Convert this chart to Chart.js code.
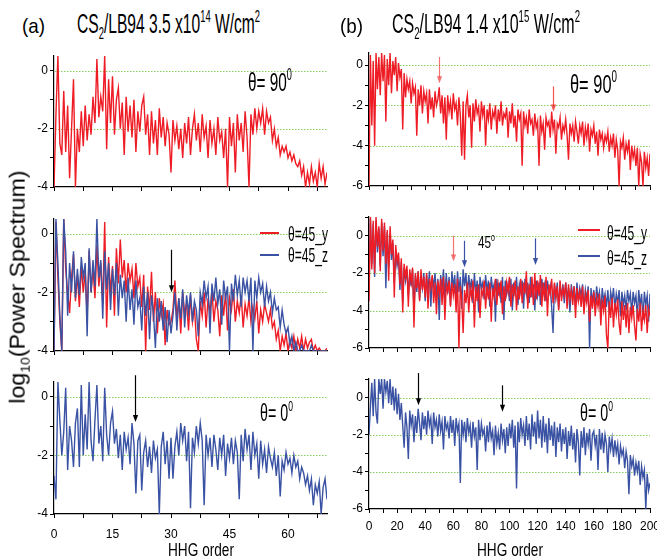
<!DOCTYPE html>
<html>
<head>
<meta charset="utf-8">
<script src="https://cdn.jsdelivr.net/npm/chart.js@4.4.0/dist/chart.umd.min.js"></script>
<style>
  body { margin: 0; width: 657px; height: 560px; overflow: hidden; background: #fff; position: relative;
         font-family: "Liberation Sans Narrow", "Liberation Sans", Arial, sans-serif; color: #000; }
  #wrap { position: absolute; left: 0; top: 0; width: 657px; height: 560px; }
  canvas { position: absolute; }
  .t { position: absolute; white-space: nowrap; line-height: 1; transform-origin: left top; }
  .t sub, .t sup, #ylab sub { font-size: 0.6em; position: relative; vertical-align: baseline; }
  .t sub, #ylab sub { top: 0.35em; }
  .t sup { top: -0.7em; }
  #ylab { position: absolute; white-space: nowrap; line-height: 1; font-family: "Liberation Sans", Arial, sans-serif; font-size: 22px; }
  .key { position: absolute; height: 2px; }
</style>
</head>
<body>
<div id="wrap"></div>

<div class="t" data-w="23" style="left:22px;top:15px;font-size:21px">(a)</div>
<div class="t" data-w="183" style="left:77px;top:11px;font-size:27px">CS<sub>2</sub>/LB94 3.5 x10<sup>14</sup> W/cm<sup>2</sup></div>
<div class="t" data-w="23" style="left:340px;top:15px;font-size:21px">(b)</div>
<div class="t" data-w="188" style="left:392px;top:11px;font-size:27px">CS<sub>2</sub>/LB94 1.4 x10<sup>15</sup> W/cm<sup>2</sup></div>

<div class="t" data-w="44" style="left:248px;top:69px;font-size:26px">θ= 90<sup>0</sup></div>
<div class="t" data-w="47" style="left:570px;top:70.5px;font-size:26px">θ= 90<sup>0</sup></div>
<div class="t" data-w="33" style="left:260px;top:401px;font-size:24px">θ= 0<sup>0</sup></div>
<div class="t" data-w="33" style="left:580px;top:401px;font-size:24px">θ= 0<sup>0</sup></div>

<div class="key" style="left:260px;top:232px;width:19px;background:#ee1c25"></div>
<div class="key" style="left:260px;top:254px;width:19px;background:#3a52a3"></div>
<div class="t" data-w="40" style="left:288px;top:222.5px;font-size:21px">θ=45_y</div>
<div class="t" data-w="40" style="left:288px;top:244px;font-size:21px">θ=45_z</div>

<div class="key" style="left:578px;top:229px;width:22px;background:#ee1c25"></div>
<div class="key" style="left:578px;top:255px;width:22px;background:#3a52a3"></div>
<div class="t" data-w="40" style="left:607px;top:222px;font-size:21px">θ=45_y</div>
<div class="t" data-w="40" style="left:607px;top:247px;font-size:21px">θ=45_z</div>
<div class="t" data-w="17" style="left:478px;top:234px;font-size:17px">45<sup>o</sup></div>

<div class="t" data-w="66" style="left:168px;top:540px;font-size:19px">HHG order</div>
<div class="t" data-w="66" style="left:477px;top:540px;font-size:19px">HHG order</div>

<div id="ylab">log<sub>10</sub>(Power Spectrum)</div>

<script>
const FONT = '"Liberation Sans Narrow", "Liberation Sans", Arial, sans-serif';
const RED = '#ee1c25';
const BLUE = '#3a52a3';
const GREEN = '#86cf5e';

// sampled harmonic orders
function range(a, b, s) {
  const r = [];
  for (let v = a; v <= b + 1e-9; v += s) r.push(Math.round(v * 10) / 10);
  return r;
}
const ordersA = range(0, 70, 0.5);
const ordersB = range(0, 200, 1);

// (a) 3.5e14, theta = 90
const a90 = [
  -4, -1.5, 0.5, -2.5, -2.9, -0.7, -2.8, -1.2, -3.7, -2.0,
  -0.3, -4.0, -2.0, -2.8, -1.4, -2.6, -1.2, -2.4, -1.5, -2.2,
  -0.9, -1.8, 0.4, -1.6, -0.9, -1.4, 0.5, -2.7, -0.3, -1.8,
  -0.2, -2.2, -1.0, -0.6, -2.0, -1.1, -2.9, -0.9, -2.1, -1.2,
  -2.3, -1.0, -2.8, -1.4, -2.1, -1.2, -0.9, -2.2, -1.5, -2.9,
  -1.4, -2.5, -1.7, -2.9, -1.3, -2.3, -1.6, -2.6, -1.8, -2.2,
  -3.5, -1.7, -2.4, -1.9, -2.7, -2.0, -3.0, -1.8, -2.5, -1.6,
  -2.9, -2.0, -1.5, -2.4, -1.8, -2.8, -1.5, -2.3, -1.9, -3.0,
  -1.7, -2.5, -2.0, -2.9, -1.6, -2.4, -2.1, -3.0, -2.0, -4.0,
  -1.6, -2.6, -1.8, -3.5, -1.5, -2.4, -1.8, -2.8, -1.4, -2.3,
  -4.0, -1.5, -2.2, -1.3, -2.0, -1.4, -1.8, -1.3, -2.2, -1.4,
  -1.8, -1.6, -2.4, -2.0, -2.6, -2.3, -2.9, -2.6, -2.8, -2.6,
  -3.0, -2.8, -3.1, -2.9, -3.2, -3.3, -3.1, -3.6, -3.3, -4.0,
  -3.5, -3.9, -3.3, -3.8, -3.5, -4.0, -3.2, -3.7, -3.3, -3.9,
  -3.5
];
// (a) theta = 45, y and z components
const a45y = [
  -4, 0.4, -1.5, -3.0, -4.0, 0.5, -1.2, -2.0, -2.7, -1.5,
  -0.7, -2.3, -1.4, -2.5, -1.1, -2.0, -1.3, -2.8, -0.6, -2.0,
  -1.2, -2.2, -0.4, -1.8, -1.0, -2.4, 0.4, -3.2, -0.8, -2.0,
  -1.1, -2.8, -0.5, -1.7, -0.2, -1.5, -0.9, -2.0, -1.0, -1.6,
  -1.2, -2.2, -1.0, -1.8, -1.5, -2.5, -1.4, -4.0, -1.8, -2.6,
  -1.3, -3.0, -2.0, -3.4, -2.2, -2.8, -2.4, -3.8, -2.6, -3.1,
  -3.0, -2.6, -1.6, -2.9, -2.2, -3.4, -2.0, -2.7, -2.4, -3.3,
  -2.1, -3.0, -2.5, -3.6, -4.0, -2.3, -2.8, -2.0, -3.2, -2.2,
  -2.7, -1.9, -3.0, -2.3, -2.6, -3.5, -2.1, -2.8, -2.0, -3.3,
  -2.2, -2.6, -1.9, -3.0, -2.3, -2.7, -2.1, -3.2, -2.4, -2.8,
  -2.2, -3.0, -2.5, -2.9, -2.3, -3.4, -2.6, -3.0, -2.4, -2.7,
  -3.0, -2.6, -3.2, -3.0, -3.6, -3.3, -4.0, -3.5, -3.8, -3.4,
  -4.0, -3.6, -3.9, -3.5, -4.0, -3.6, -3.9, -3.5, -4.0, -3.6,
  -3.9, -3.7, -3.6, -4.0, -3.8, -4.0, -3.9, -4.0, -4.0, -4.0,
  -3.9
];
const a45z = [
  -4, 0.5, -1.0, -2.8, -4.0, 0.5, -0.6, -2.8, -1.0, -2.0,
  -0.6, -2.2, -1.2, -2.1, -0.8, -1.5, -1.0, -3.5, -0.5, -2.0,
  -0.9, -1.8, 0.5, -1.5, -0.9, -2.9, -0.6, -1.9, -1.0, -2.6,
  -1.2, -2.1, -1.0, -2.8, -1.4, -2.2, -1.6, -3.0, -1.5, -2.6,
  -1.9, -3.1, -1.6, -2.5, -2.2, -3.3, -1.8, -2.8, -2.0, -3.6,
  -2.1, -2.7, -3.9, -2.2, -3.0, -2.3, -3.3, -2.5, -3.7, -2.6,
  -3.4, -2.8, -2.0, -3.3, -2.2, -2.9, -1.9, -3.2, -2.1, -2.7,
  -2.0, -3.0, -2.3, -2.6, -3.5, -2.0, -2.4, -1.6, -2.2, -1.8,
  -3.4, -1.7, -2.3, -1.5, -2.4, -1.9, -3.1, -1.6, -2.2, -1.8,
  -4.0, -1.7, -2.3, -1.4, -2.1, -1.6, -2.5, -1.5, -2.0, -1.6,
  -2.3, -1.5, -4.0, -1.6, -2.2, -1.5, -2.0, -1.7, -2.5, -1.8,
  -2.3, -2.0, -2.7, -2.2, -2.6, -2.5, -3.2, -2.6, -3.1, -3.4,
  -3.2, -3.8, -3.5, -4.0, -3.7, -4.0, -4.0, -3.8, -4.0, -4.0,
  -4.0, -4.0, -3.8, -4.0, -4.0, -4.0, -4.0, -4.0, -4.0, -4.0,
  -4.0
];
// (a) theta = 0
const a0 = [
  -2.7, -3.5, 0.5, -0.8, -2.0, -1.2, 0.3, -2.5, -1.0, -1.5,
  -2.4, -0.9, -0.4, -2.4, 0.4, -2.0, -0.6, -1.8, 0.5, -1.5,
  -2.2, -0.8, 0.4, -1.6, -1.0, -2.2, 0.3, -1.3, -2.0, -0.9,
  -0.5, -1.6, -1.1, -2.1, -1.3, -2.5, -1.2, -1.8, -1.4, -2.3,
  -0.9, -1.6, -3.3, -1.5, -1.3, -3.2, -1.9, -1.5, -2.4, -1.7,
  -2.6, -1.5, -2.1, -1.8, -4.0, -1.7, -1.2, -2.3, -1.5, -2.8,
  -1.4, -2.8, -1.7, -1.2, -2.0, -0.9, -1.5, -1.0, -2.2, -1.2,
  -3.8, -1.4, -1.9, -1.0, -1.6, -0.9, -1.5, -3.7, -1.3, -2.0,
  -1.4, -2.4, -1.3, -1.8, -2.5, -1.4, -2.0, -1.3, -2.7, -1.6,
  -2.1, -1.4, -2.3, -1.5, -1.9, -3.5, -1.3, -2.2, -1.1, -1.8,
  -1.3, -2.5, -1.2, -2.0, -1.6, -2.8, -1.5, -2.3, -1.8, -2.6,
  -1.7, -2.1, -2.4, -1.9, -2.7, -2.0, -3.4, -2.2, -2.5, -1.9,
  -2.3, -2.1, -2.6, -2.0, -2.4, -2.2, -2.8, -2.4, -2.6, -3.0,
  -2.7, -3.2, -2.8, -3.7, -3.0, -3.3, -2.9, -4.0, -3.1, -2.8,
  -3.5
];

// (b) 1.4e15, theta = 90
const b90 = [
  -6.0, 0.5, -3.0, 0.2, -4.0, 0.6, -1.2, 0.4, -1.5, 0.6,
  -0.8, 0.5, -2.8, 0.3, -1.0, 0.6, -1.4, 0.2, -0.5, 0.4,
  -1.3, 0.1, -0.6, -0.2, -3.2, -0.4, -1.6, -0.7, -1.2, -0.8,
  -1.9, -0.9, -1.4, -1.1, -3.5, -1.2, -2.0, -1.0, -2.4, -1.3,
  -1.8, -1.4, -2.9, -1.2, -2.2, -1.6, -2.6, -1.3, -2.0, -1.7,
  -1.1, -2.4, -1.5, -2.9, -1.6, -3.7, -1.5, -2.3, -1.8, -2.7,
  -1.4, -2.2, -1.9, -3.0, -1.6, -2.5, -4.5, -1.8, -4.7, -2.0,
  -1.5, -2.6, -2.0, -4.1, -1.9, -2.8, -1.7, -2.4, -2.1, -3.3,
  -1.8, -2.5, -2.0, -4.0, -2.2, -2.7, -1.9, -3.2, -2.3, -2.6,
  -2.0, -3.4, -2.2, -2.8, -1.8, -3.0, -2.4, -2.6, -2.1, -3.6,
  -2.3, -2.9, -1.9, -3.1, -2.5, -3.8, -2.2, -2.7, -2.4, -5.0,
  -2.3, -3.0, -2.6, -3.4, -2.2, -2.9, -2.7, -3.5, -2.4, -3.1,
  -2.8, -5.0, -2.5, -3.3, -2.9, -4.2, -2.6, -3.0, -2.8, -3.6,
  -2.3, -3.2, -2.7, -4.4, -2.9, -3.1, -2.6, -3.7, -3.0, -3.3,
  -2.7, -3.5, -4.7, -2.9, -3.4, -3.0, -3.8, -2.8, -3.3, -3.9,
  -3.0, -3.4, -2.8, -4.0, -3.1, -3.6, -2.9, -4.3, -3.2, -3.5,
  -3.0, -3.9, -3.3, -4.5, -3.2, -3.7, -3.4, -4.1, -3.5, -3.8,
  -3.3, -4.3, -3.6, -4.0, -3.4, -4.6, -3.7, -4.2, -6.0, -3.8,
  -4.1, -3.6, -4.7, -3.9, -4.3, -3.7, -5.2, -4.0, -4.6, -4.2,
  -5.0, -4.1, -6.0, -4.4, -4.8, -6.0, -4.3, -5.1, -4.6, -5.5,
  -4.4
];
// (b) theta = 45, y and z components
const b45y = [
  -3.5, 1.0, -1.8, 0.8, -2.0, 1.0, -0.6, 0.5, -1.9, 0.9,
  -0.8, 0.7, -1.5, 0.3, -2.4, 0.5, -1.0, -0.2, -3.3, -0.5,
  -1.4, -0.9, -2.6, -1.2, -4.1, -1.5, -2.2, -1.6, -3.8, -1.8,
  -2.5, -1.7, -4.9, -2.0, -2.8, -1.9, -3.5, -1.8, -2.9, -2.2,
  -3.3, -2.0, -3.9, -2.3, -2.8, -2.1, -3.6, -2.5, -4.2, -2.4,
  -3.1, -2.3, -3.7, -2.2, -4.5, -2.6, -3.0, -2.4, -3.8, -2.5,
  -3.2, -2.6, -4.1, -2.3, -6.0, -2.7, -3.4, -5.2, -2.9, -3.6,
  -2.5, -4.1, -2.8, -3.3, -2.4, -4.9, -2.7, -3.5, -2.6, -4.4,
  -2.9, -3.2, -2.4, -3.9, -2.7, -3.4, -2.5, -4.6, -2.8, -3.3,
  -2.3, -3.7, -2.6, -3.1, -2.4, -4.2, -2.7, -3.5, -2.5, -3.0,
  -2.2, -3.8, -2.6, -3.2, -2.4, -4.0, -2.7, -3.4, -2.3, -3.6,
  -2.5, -3.1, -1.9, -3.9, -2.6, -3.3, -2.2, -3.7, -2.0, -3.4,
  -2.4, -3.2, -2.1, -3.8, -2.5, -3.5, -2.2, -4.3, -2.6, -3.1,
  -2.3, -3.6, -2.5, -3.3, -2.7, -4.0, -2.4, -3.5, -2.8, -3.2,
  -2.5, -3.9, -2.6, -3.4, -2.9, -3.7, -2.7, -4.4, -2.8, -3.5,
  -3.0, -3.8, -2.7, -4.2, -3.1, -3.6, -2.9, -4.6, -3.2, -3.9,
  -3.0, -4.3, -3.3, -3.8, -3.1, -4.8, -3.4, -4.0, -3.2, -5.3,
  -6.0, -3.5, -4.4, -3.3, -4.9, -3.6, -4.2, -3.4, -4.7, -5.3,
  -3.5, -4.5, -3.7, -4.9, -3.6, -5.2, -3.8, -4.4, -3.7, -4.8,
  -5.6, -3.9, -4.6, -3.6, -5.1, -4.0, -4.5, -3.7, -5.2, -3.9,
  -4.3
];
const b45z = [
  -3.0, 0.9, -1.5, 0.6, -2.2, 0.8, -0.9, 0.4, -1.6, 0.7,
  -1.1, 0.5, -2.8, 0.2, -1.7, 0.1, -1.3, -0.4, -2.5, -0.8,
  -1.6, -1.1, -2.9, -1.4, -3.6, -1.7, -2.4, -1.8, -3.2, -2.0,
  -2.7, -1.8, -4.0, -2.1, -3.0, -1.9, -3.4, -2.2, -2.8, -2.0,
  -3.5, -2.1, -3.0, -1.9, -3.8, -2.2, -2.7, -2.0, -3.3, -2.3,
  -4.5, -2.1, -2.9, -1.8, -3.4, -2.0, -3.1, -2.2, -3.7, -1.9,
  -2.8, -2.1, -3.5, -1.9, -3.0, -2.2, -3.9, -1.8, -2.7, -2.0,
  -3.3, -2.1, -2.9, -2.3, -3.6, -2.0, -3.1, -2.4, -4.1, -2.2,
  -2.8, -2.5, -3.4, -2.1, -3.0, -2.4, -3.8, -2.2, -2.9, -2.6,
  -4.6, -2.3, -3.2, -2.5, -3.6, -2.2, -4.5, -2.4, -3.1, -2.6,
  -3.5, -2.3, -4.0, -2.5, -3.2, -2.2, -3.7, -2.6, -3.0, -2.4,
  -3.9, -2.3, -3.1, -2.5, -3.6, -2.2, -3.3, -2.6, -4.0, -2.4,
  -3.2, -2.5, -3.7, -2.3, -3.0, -2.6, -3.5, -2.4, -3.1, -2.7,
  -3.8, -5.2, -2.6, -3.3, -2.5, -3.9, -2.7, -3.2, -2.6, -3.6,
  -2.5, -3.4, -2.8, -4.1, -2.6, -3.3, -2.7, -3.8, -2.5, -3.5,
  -2.8, -3.2, -2.6, -4.0, -2.9, -3.4, -2.7, -6.0, -2.8, -3.6,
  -2.9, -3.9, -2.7, -3.4, -3.0, -4.2, -2.8, -3.5, -3.1, -3.8,
  -2.9, -4.1, -3.0, -3.5, -2.8, -3.9, -3.1, -3.6, -2.9, -4.3,
  -3.0, -3.7, -3.2, -4.0, -2.9, -3.5, -3.1, -4.2, -3.0, -3.6,
  -3.2, -4.4, -2.9, -3.8, -3.1, -4.5, -3.0, -3.7, -3.2, -4.6,
  -3.1
];
// (b) theta = 0
const b0 = [
  -2.0, -0.5, 0.8, -1.0, 1.0, -0.8, -1.4, 1.0, 0.2, 1.0,
  -0.6, 1.0, 0.3, 0.9, -0.3, 1.0, -0.4, 0.6, -0.7, 0.5,
  -0.9, 0.2, -1.2, -0.3, -1.5, -2.7, -0.8, -1.6, -3.3, -0.7,
  -1.5, -0.9, -2.4, -1.0, -1.9, -0.6, -1.4, -2.3, -0.8, -1.7,
  -1.0, -2.0, -0.7, -1.5, -1.1, -2.5, -0.8, -1.6, -1.2, -2.1,
  -0.9, -1.8, -1.3, -2.8, -1.0, -1.7, -1.4, -2.2, -1.0, -1.9,
  -1.2, -2.6, -1.1, -1.8, -1.4, -4.6, -1.2, -2.0, -1.3, -2.4,
  -1.1, -1.9, -1.5, -2.7, -1.3, -2.1, -1.6, -3.9, -1.2, -2.3,
  -1.4, -2.0, -1.7, -2.9, -1.5, -2.4, -1.3, -2.2, -1.8, -3.1,
  -1.5, -2.5, -1.9, -2.8, -1.4, -2.3, -1.7, -3.0, -1.6, -2.6,
  -1.4, -2.2, -1.2, -2.7, -1.5, -4.9, -1.3, -2.4, -1.1, -2.0,
  -1.5, -2.6, -1.0, -2.3, -1.4, -2.8, -0.9, -2.1, -1.3, -2.5,
  -0.7, -2.2, -1.2, -2.7, -1.0, -2.4, -1.4, -3.0, -1.1, -2.3,
  -1.5, -2.6, -1.3, -3.2, -1.6, -2.4, -1.4, -2.9, -1.7, -2.5,
  -1.6, -3.3, -1.8, -2.6, -1.5, -2.8, -1.9, -3.5, -1.7, -2.4,
  -4.2, -1.8, -2.7, -1.6, -3.1, -1.9, -2.5, -1.7, -3.4, -2.0,
  -1.8, -2.6, -2.0, -3.9, -1.7, -2.8, -1.9, -3.0, -2.0, -2.5,
  -4.0, -2.1, -2.8, -2.2, -3.2, -2.3, -3.0, -2.5, -3.6, -2.6,
  -3.1, -2.8, -3.8, -2.9, -3.4, -5.2, -3.1, -3.7, -3.3, -4.2,
  -3.5, -4.0, -3.4, -4.7, -3.7, -4.3, -3.9, -6.0, -4.1, -5.0,
  -4.6
];

// dotted reference levels
const gridA = [0, -2];
const gridB = [0, -2, -4];

// marker arrows: x = harmonic order, from/to = log10 level
const arrowsA45 = [{ x: 30, from: -0.55, to: -2.0, color: '#000' }];
const arrowsA0 = [{ x: 20.7, from: 0.73, to: -0.86, color: '#000' }];
const arrowsB90 = [
  { x: 50, from: 0.4, to: -0.9, color: 'rgba(238,40,40,0.65)' },
  { x: 131, from: -1.06, to: -2.3, color: 'rgba(238,40,40,0.8)' }
];
const arrowsB45 = [
  { x: 60, from: 0, to: -1.38, color: 'rgba(238,40,40,0.65)' },
  { x: 67.4, from: -0.27, to: -1.68, color: '#3a52a3' },
  { x: 118.4, from: -0.14, to: -1.56, color: '#3a52a3' }
];
const arrowsB0 = [
  { x: 35, from: 1.32, to: -0.41, color: '#000' },
  { x: 94.5, from: 0.66, to: -0.77, color: '#000' }
];

const deco = {
  id: 'deco',
  beforeDatasetsDraw(chart, args, opts) {
    const { ctx, chartArea: a, scales: { y } } = chart;
    ctx.save();
    ctx.strokeStyle = GREEN;
    ctx.lineWidth = 1;
    ctx.setLineDash([1.5, 1.5]);
    (opts.grid || []).forEach(v => {
      const py = Math.round(y.getPixelForValue(v)) + 0.5;
      ctx.beginPath();
      ctx.moveTo(a.left + 1, py);
      ctx.lineTo(a.right, py);
      ctx.stroke();
    });
    ctx.restore();
  },
  afterDraw(chart, args, opts) {
    const { ctx, scales: { x, y } } = chart;
    ctx.save();
    (opts.arrows || []).forEach(ar => {
      const px = Math.round(x.getPixelForValue(ar.x)) + 0.5;
      const y1 = y.getPixelForValue(ar.from);
      const y2 = y.getPixelForValue(ar.to);
      ctx.strokeStyle = ar.color;
      ctx.fillStyle = ar.color;
      ctx.lineWidth = 1.2;
      ctx.beginPath();
      ctx.moveTo(px, y1);
      ctx.lineTo(px, y2 - 6);
      ctx.stroke();
      ctx.beginPath();
      ctx.moveTo(px - 2.6, y2 - 7);
      ctx.lineTo(px + 2.6, y2 - 7);
      ctx.lineTo(px, y2);
      ctx.closePath();
      ctx.fill();
    });
    ctx.restore();
  }
};

const panels = [
  { box: [54, 56, 273, 131], labels: ordersA, xmax: 70, xstep: 7.5, xlab: 15, showX: false, xpad: 9,
    ymin: -4, ymax: 0.5, grid: gridA, arrows: [],
    series: [{ data: a90, color: RED, order: 0 }] },
  { box: [54, 219, 273, 132], labels: ordersA, xmax: 70, xstep: 7.5, xlab: 15, showX: false, xpad: 9,
    ymin: -4, ymax: 0.5, grid: gridA, arrows: arrowsA45,
    series: [{ data: a45y, color: RED, order: 1 }, { data: a45z, color: BLUE, order: 0 }] },
  { box: [54, 382, 273, 132], labels: ordersA, xmax: 70, xstep: 7.5, xlab: 15, showX: true, xpad: 9,
    ymin: -4, ymax: 0.5, grid: gridA, arrows: arrowsA0,
    series: [{ data: a0, color: BLUE, order: 0 }] },
  { box: [369, 53, 281, 133], labels: ordersB, xmax: 200, xstep: 10, xlab: 20, showX: false, xpad: 6,
    ymin: -6, ymax: 0.6, grid: gridB, arrows: arrowsB90,
    series: [{ data: b90, color: RED, order: 0 }] },
  { box: [369, 217, 281, 131], labels: ordersB, xmax: 200, xstep: 10, xlab: 20, showX: false, xpad: 6,
    ymin: -6, ymax: 1, grid: gridB, arrows: arrowsB45,
    series: [{ data: b45y, color: RED, order: 0 }, { data: b45z, color: BLUE, order: 1 }] },
  { box: [369, 379, 281, 130], labels: ordersB, xmax: 200, xstep: 10, xlab: 20, showX: true, xpad: 6,
    ymin: -6, ymax: 1, grid: gridB, arrows: arrowsB0,
    series: [{ data: b0, color: BLUE, order: 0 }] }
];

const PL = 44, PT = 14, PR = 30, PB = 32;
const wrap = document.getElementById('wrap');

panels.forEach(p => {
  const [L, T, W, H] = p.box;
  const cv = document.createElement('canvas');
  cv.width = W + PL + PR;
  cv.height = H + PT + PB;
  cv.style.left = (L - PL) + 'px';
  cv.style.top = (T - PT) + 'px';
  wrap.appendChild(cv);

  new Chart(cv.getContext('2d'), {
    type: 'line',
    data: {
      labels: p.labels,
      datasets: p.series.map(s => ({
        data: s.data,
        borderColor: s.color,
        borderWidth: 1.4,
        pointRadius: 0,
        tension: 0,
        order: s.order
      }))
    },
    options: {
      responsive: false,
      animation: false,
      events: [],
      layout: { padding: { top: PT, right: PR, left: 0, bottom: 0 } },
      plugins: {
        legend: { display: false },
        tooltip: { enabled: false },
        deco: { grid: p.grid, arrows: p.arrows }
      },
      scales: {
        x: {
          type: 'linear',
          min: 0,
          max: p.xmax,
          afterFit: s => { s.height = PB; },
          ticks: {
            stepSize: p.xstep,
            includeBounds: false,
            autoSkip: false,
            maxRotation: 0,
            padding: p.xpad,
            color: '#000',
            font: { family: FONT, size: 12 },
            callback: v => (p.showX && v % p.xlab === 0) ? String(v) : ''
          },
          grid: { drawOnChartArea: false, drawTicks: true, tickLength: 4, tickColor: '#000', tickWidth: 1 },
          border: { color: '#000', width: 1.2 }
        },
        y: {
          min: p.ymin,
          max: p.ymax,
          afterFit: s => { s.width = PL; },
          ticks: {
            stepSize: 1,
            includeBounds: false,
            autoSkip: false,
            padding: 2,
            color: '#000',
            font: { family: FONT, size: 12 },
            callback: v => (v % 2 === 0) ? String(v) : ''
          },
          grid: { drawOnChartArea: false, drawTicks: true, tickLength: 4, tickColor: '#000', tickWidth: 1 },
          border: { color: '#000', width: 1.2 }
        }
      }
    },
    plugins: [deco]
  });
});

// squeeze the lettering to the widths in the figure
document.querySelectorAll('.t').forEach(el => {
  const w = el.getBoundingClientRect().width;
  el.style.transform = 'scaleX(' + (+el.dataset.w / w) + ')';
});

// rotated axis title
const yl = document.getElementById('ylab');
const yw = yl.offsetWidth, yh = yl.offsetHeight;
yl.style.left = (17.5 - yw / 2) + 'px';
yl.style.top = (286.5 - yh / 2) + 'px';
yl.style.transformOrigin = 'center center';
yl.style.transform = 'rotate(-90deg) scaleX(' + (233 / yw) + ')';
</script>
</body>
</html>
